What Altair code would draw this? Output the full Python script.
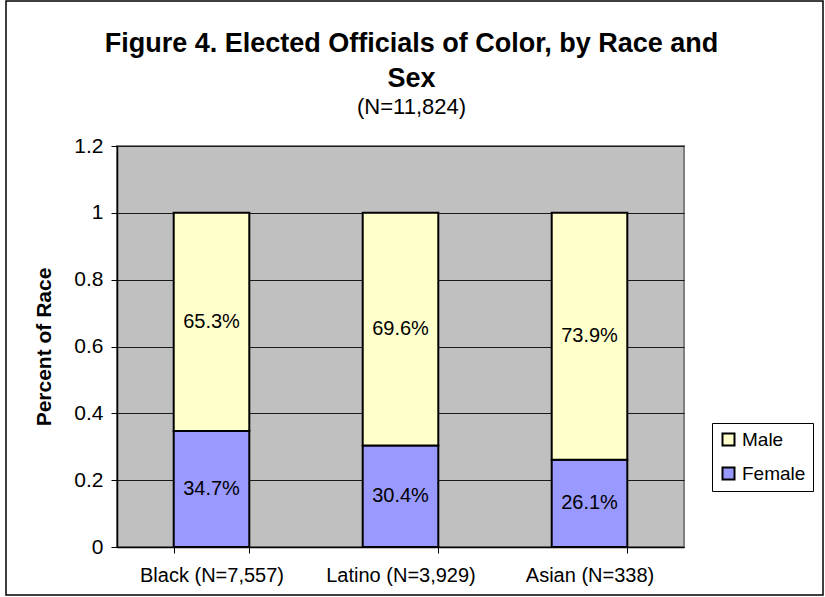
import altair as alt
import pandas as pd

# Categories and shares (fraction of each race's officials)
races = ["Black (N=7,557)", "Latino (N=3,929)", "Asian (N=338)"]
female = [0.347, 0.304, 0.261]
male = [0.653, 0.696, 0.739]
sexes = ["Male", "Female"]
y_ticks = [0, 0.2, 0.4, 0.6, 0.8, 1.0, 1.2]

rows = []
for r, f, m in zip(races, female, male):
    rows.append({"race": r, "sex": "Female", "ord": 0, "value": f, "label": f"{f * 100:.1f}%"})
    rows.append({"race": r, "sex": "Male", "ord": 1, "value": m, "label": f"{m * 100:.1f}%"})
df = pd.DataFrame(rows)

FONT = "Liberation Sans"

base = alt.Chart(df).transform_stack(
    stack="value",
    groupby=["race"],
    sort=[alt.SortField("ord")],
    as_=["y0", "y1"],
).transform_calculate(mid="(datum.y0 + datum.y1) / 2")

x_enc = alt.X(
    "race:N",
    sort=races,
    scale=alt.Scale(paddingInner=0.6, paddingOuter=0.3),
    axis=alt.Axis(
        title=None,
        labelAngle=0,
        labelFontSize=20,
        labelFont=FONT,
        labelColor="black",
        labelPadding=12,
        tickBand="extent",
        tickSize=6,
        tickColor="black",
        domainColor="black",
        domainWidth=1.5,
        grid=False,
    ),
)

bars = base.mark_bar(stroke="black", strokeWidth=2).encode(
    x=x_enc,
    y=alt.Y(
        "y0:Q",
        scale=alt.Scale(domain=[0, 1.2], nice=False),
        axis=alt.Axis(
            title="Percent of Race",
            titleFont=FONT,
            titleFontSize=21,
            titleFontWeight="bold",
            titleColor="black",
            titlePadding=19,
            values=y_ticks,
            format=".1~f",
            labelFontSize=21,
            labelFont=FONT,
            labelColor="black",
            labelPadding=8,
            tickSize=6,
            tickColor="black",
            domainColor="black",
            domainWidth=1.5,
            grid=True,
            gridColor="#1a1a1a",
            gridWidth=1,
        ),
    ),
    y2="y1:Q",
    color=alt.Color(
        "sex:N",
        scale=alt.Scale(domain=sexes, range=["#FFFFCC", "#9999FF"]),
        legend=alt.Legend(
            title=None,
            orient="none",
            legendX=595,
            legendY=277,
            direction="vertical",
            symbolType="square",
            symbolSize=144,
            symbolStrokeColor="black",
            symbolStrokeWidth=2,
            symbolOpacity=1,
            labelFont=FONT,
            labelFontSize=19,
            labelColor="black",
            labelOffset=4,
            rowPadding=13,
            padding=7,
            strokeColor="black",
            fillColor="white",
        ),
    ),
)

labels = base.mark_text(font=FONT, fontSize=20, color="black").encode(
    x=alt.X("race:N", sort=races),
    y=alt.Y("mid:Q"),
    text="label:N",
)

# Outer border around the whole figure
frame = alt.Chart(pd.DataFrame({"k": [0]})).mark_rect(
    fill="transparent", stroke="black", strokeWidth=1.5
).encode(
    x=alt.value(-111), x2=alt.value(706), y=alt.value(-145), y2=alt.value(449)
)

chart = alt.layer(frame, bars, labels).properties(
    width=567,
    height=401,
    autosize=alt.AutoSizeParams(type="none"),
    padding={"left": 117, "top": 146, "right": 141, "bottom": 50},
    background="white",
    title=alt.TitleParams(
        text=["Figure 4. Elected Officials of Color, by Race and", "Sex"],
        subtitle="(N=11,824)",
        font=FONT,
        fontSize=27,
        fontWeight="bold",
        lineHeight=35,
        color="black",
        subtitleFont=FONT,
        subtitleFontSize=22,
        subtitleColor="black",
        subtitlePadding=4,
        anchor="middle",
        frame="group",
        dx=11,
        offset=-119,
    ),
).configure_view(
    fill="#C0C0C0", stroke="#808080", strokeWidth=2
)

chart.save("out.html", embed_options={"renderer": "svg", "actions": False})
